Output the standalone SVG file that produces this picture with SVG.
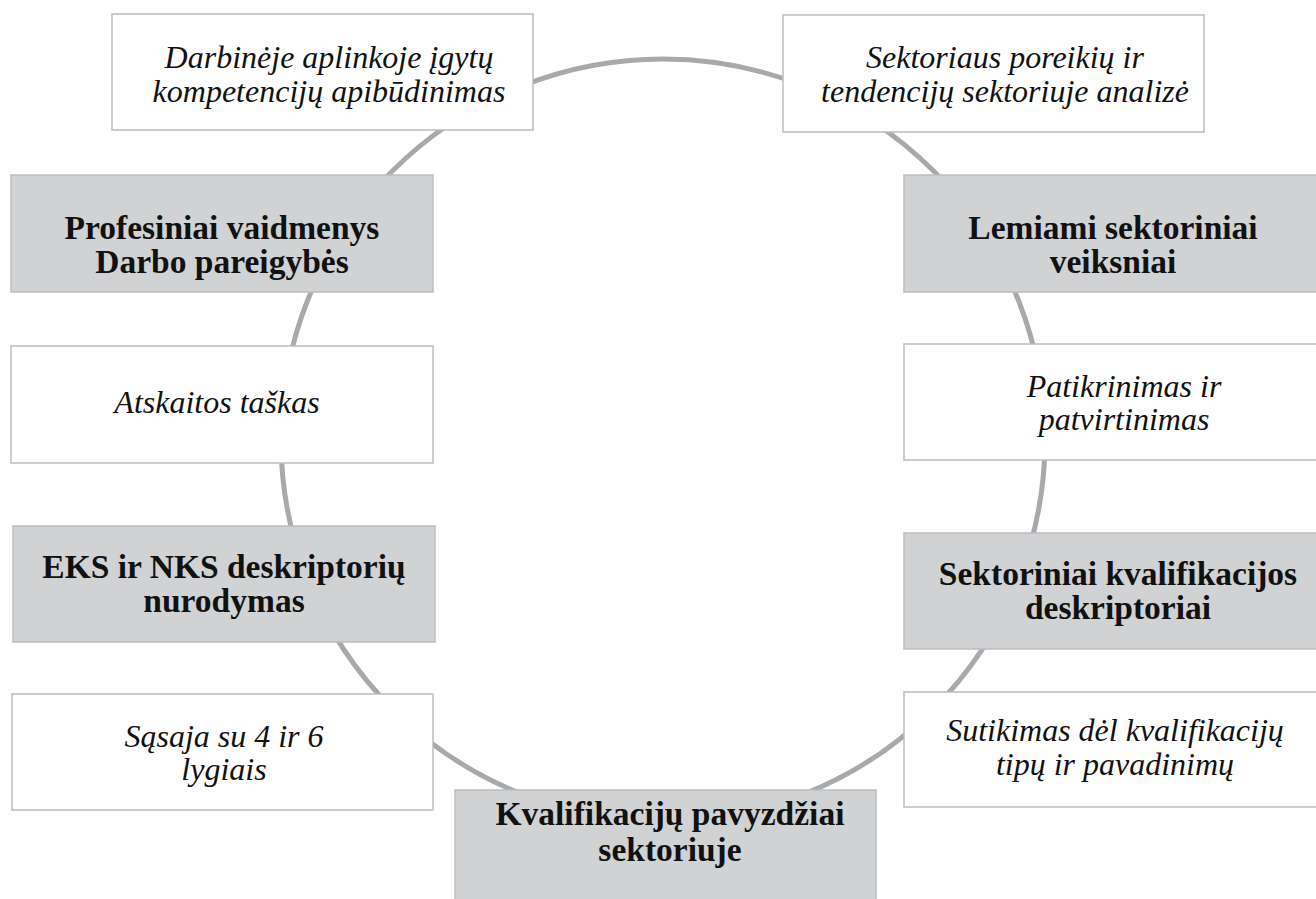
<svg xmlns="http://www.w3.org/2000/svg" width="1316" height="899" viewBox="0 0 1316 899">
<style>
.box{stroke:#bcbdc0;stroke-width:1.5}
.w{fill:#ffffff}
.g{fill:#d1d2d4}
.it{font-family:"Liberation Serif",serif;font-style:italic;font-size:32px;fill:#111;text-anchor:middle}
.bd{font-family:"Liberation Serif",serif;font-weight:bold;font-size:33.5px;fill:#111;text-anchor:middle}
.ring{fill:none;stroke:#a7a9ac;stroke-width:5}
</style>
<rect width="1316" height="899" fill="#ffffff"/>
<g id="connectors">
<ellipse class="ring" cx="663" cy="440" rx="382" ry="381"/>
</g>
<g id="n1"><rect class="box w" x="112" y="14" width="421" height="116"/>
<text class="it" x="329" y="68">Darbinėje aplinkoje įgytų</text>
<text class="it" x="329" y="102">kompetencijų apibūdinimas</text></g>
<g id="n2"><rect class="box w" x="783" y="15" width="421" height="117"/>
<text class="it" x="1005" y="68">Sektoriaus poreikių ir</text>
<text class="it" x="1005" y="102">tendencijų sektoriuje analizė</text></g>
<g id="n3"><rect class="box g" x="11" y="175" width="422" height="117"/>
<text class="bd" x="222" y="239">Profesiniai vaidmenys</text>
<text class="bd" x="222" y="273">Darbo pareigybės</text></g>
<g id="n4"><rect class="box g" x="904" y="175" width="422" height="117"/>
<text class="bd" x="1113" y="239">Lemiami sektoriniai</text>
<text class="bd" x="1113" y="273">veiksniai</text></g>
<g id="n5"><rect class="box w" x="11" y="346" width="422" height="117"/>
<text class="it" x="217" y="413">Atskaitos taškas</text></g>
<g id="n6"><rect class="box w" x="904" y="344" width="422" height="116"/>
<text class="it" x="1124" y="397">Patikrinimas ir</text>
<text class="it" x="1124" y="430">patvirtinimas</text></g>
<g id="n7"><rect class="box g" x="13" y="526" width="422" height="116"/>
<text class="bd" x="224" y="578">EKS ir NKS deskriptorių</text>
<text class="bd" x="224" y="612">nurodymas</text></g>
<g id="n8"><rect class="box g" x="904" y="533" width="422" height="116"/>
<text class="bd" x="1118" y="585">Sektoriniai kvalifikacijos</text>
<text class="bd" x="1118" y="619">deskriptoriai</text></g>
<g id="n9"><rect class="box w" x="12" y="694" width="421" height="116"/>
<text class="it" x="224" y="747">Sąsaja su 4 ir 6</text>
<text class="it" x="224" y="780">lygiais</text></g>
<g id="n10"><rect class="box w" x="904" y="692" width="422" height="115"/>
<text class="it" x="1115" y="741">Sutikimas dėl kvalifikacijų</text>
<text class="it" x="1115" y="775">tipų ir pavadinimų</text></g>
<g id="n11"><rect class="box g" x="455" y="790" width="421" height="120"/>
<text class="bd" x="670" y="825">Kvalifikacijų pavyzdžiai</text>
<text class="bd" x="670" y="861">sektoriuje</text></g>
</svg>
